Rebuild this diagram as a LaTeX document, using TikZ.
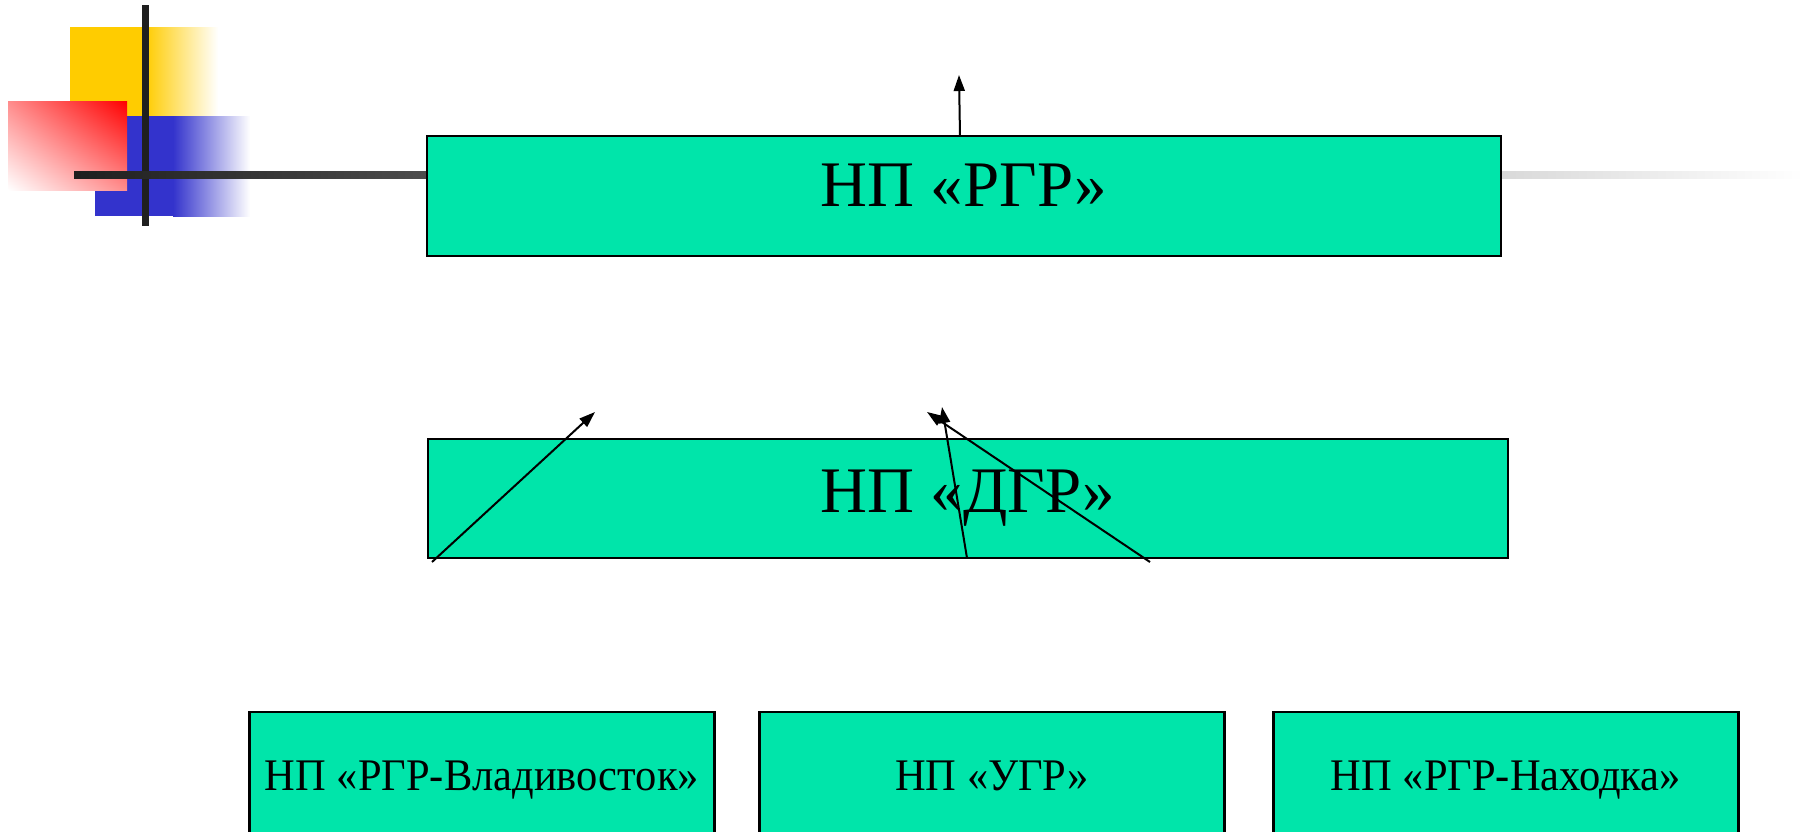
\documentclass[tikz,border=0pt]{standalone}
\usepackage{fontspec}
\setmainfont{Liberation Serif}
\newfontfamily\narrowserif[FakeStretch=0.94]{Liberation Serif}
\usetikzlibrary{arrows.meta,shadings}
\definecolor{npgreen}{HTML}{00E5AA}
\definecolor{sqyellow}{HTML}{FFCC00}
\definecolor{sqblue}{HTML}{3333CC}

\begin{document}
\begin{tikzpicture}[line cap=butt,line join=miter,>={Triangle[length=8pt,width=5.5pt]},x=0.5pt,y=-0.5pt,
  box/.style={draw=black,fill=npgreen,line width=1.2pt,inner sep=0pt,text depth=0pt},
  bigbox/.style={box,font=\fontsize{32.5}{36}\selectfont},
  smallbox/.style={box,font=\narrowserif\fontsize{22.6}{26}\selectfont,text height=9pt,
    minimum width=232.5pt,minimum height=69pt}]
\useasboundingbox (0,0) rectangle (1806,831);
%kulmakuvio
\fill[sqyellow] (70,27) rectangle (145,116);
\shade[left color=sqyellow,right color=white] (145,27) rectangle (218,116);
\fill[sqblue] (95,116) rectangle (173,216);
\shade[left color=sqblue,right color=white] (173,116) rectangle (250,216);
\shade[upper right=red,lower left=white,upper left=red!45,lower right=red!45] (8,101) rectangle (127,190);
\fill[black!88] (142,5) rectangle (149,226);
\shade[left color=black!88,right color=black!70] (74,171) rectangle (428,178);
\shade[left color=black!15,right color=white] (1502,171) rectangle (1803,178);

%laatikot
\node[bigbox,text height=10pt,minimum width=537pt,minimum height=60pt] (rgr) at (964,196) {НП «РГР»};
\node[bigbox,text height=13.5pt,minimum width=540pt,minimum height=59.5pt] (dgr) at (968,498.5) {НП «ДГР»};
\node[smallbox] (vlad) at (482,781) {НП «РГР-Владивосток»};
\node[smallbox] (ugr) at (992,781) {НП «УГР»};
\node[smallbox] (nah) at (1506,781) {НП «РГР-Находка»};

%nuolet
\coordinate (rgr base) at (960,136);
\coordinate (rgr tip) at (959,75);
\coordinate (dgr left) at (432,562);
\coordinate (dgr mid) at (967,558);
\coordinate (dgr right) at (1150,562);
\coordinate (tip left) at (595,412);
\coordinate (tip mid) at (942,407);
\coordinate (tip right) at (927,412);
\draw[->,line width=1pt] (rgr base) -- (rgr tip);
\draw[->,line width=1pt] (dgr left) -- (tip left);
\draw[->,line width=1pt] (dgr mid) -- (tip mid);
\draw[->,line width=1pt] (dgr right) -- (tip right);
\end{tikzpicture}
\end{document}
